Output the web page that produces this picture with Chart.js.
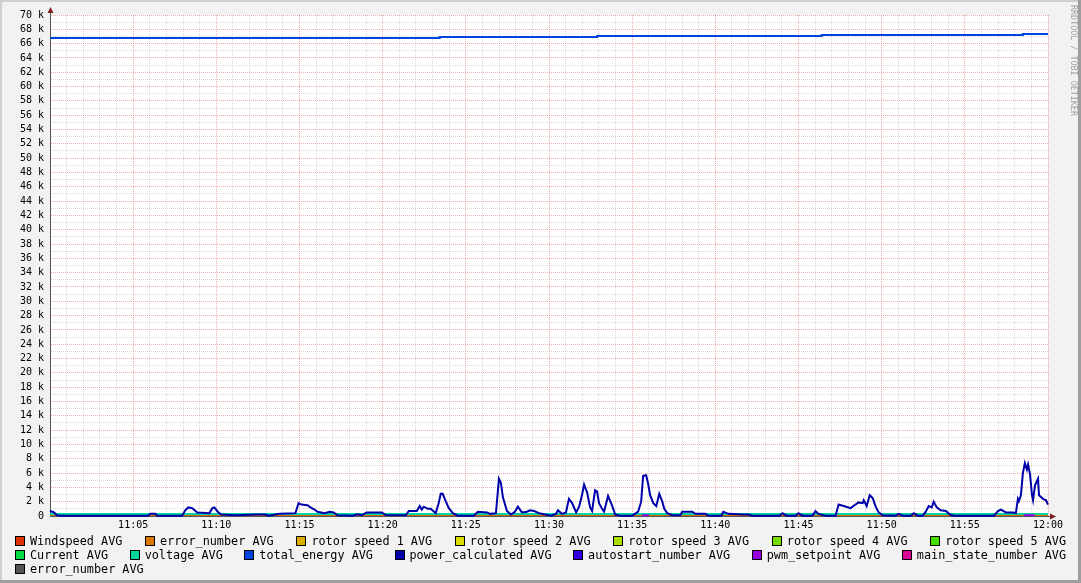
<!DOCTYPE html>
<html>
<head>
<meta charset="utf-8">
<script src="https://cdn.jsdelivr.net/npm/chart.js@4.4.1/dist/chart.umd.min.js"></script>
<style>
html, body { margin: 0; padding: 0; background: #f2f2f2; }
canvas { display: block; }
</style>
</head>
<body>
<canvas id="rrd" width="1081" height="583"></canvas>
<script>
// time axis is minutes after 11:00
const xTickLabels = ['11:05', '11:10', '11:15', '11:20', '11:25', '11:30',
                     '11:35', '11:40', '11:45', '11:50', '11:55', '12:00'];
const yTickLabels = ['0', '2 k', '4 k', '6 k', '8 k', '10 k', '12 k', '14 k', '16 k', '18 k',
                     '20 k', '22 k', '24 k', '26 k', '28 k', '30 k', '32 k', '34 k', '36 k',
                     '38 k', '40 k', '42 k', '44 k', '46 k', '48 k', '50 k', '52 k', '54 k',
                     '56 k', '58 k', '60 k', '62 k', '64 k', '66 k', '68 k', '70 k'];

const seriesNames = ['Windspeed AVG', 'error_number AVG', 'rotor speed 1 AVG', 'rotor speed 2 AVG',
                     'rotor speed 3 AVG', 'rotor speed 4 AVG', 'rotor speed 5 AVG', 'Current AVG',
                     'voltage AVG', 'total_energy AVG', 'power_calculated AVG', 'autostart_number AVG',
                     'pwm_setpoint AVG', 'main_state_number AVG', 'error_number AVG'];
const seriesColors = ['#dd3300', '#dd7700', '#ddaa00', '#dddd00', '#aadd00', '#77dd00', '#44dd00',
                      '#00dd44', '#00d6a0', '#0044dd', '#0000aa', '#3300dd', '#9900dd', '#dd0099', '#555555'];

const powerTimes = [0.00, 0.24, 0.42, 0.66, 5.90, 6.02, 6.33, 6.45, 7.95, 8.13, 8.31, 8.55, 8.86, 9.58,
  9.76, 9.88, 10.12, 10.30, 11.08, 12.47, 12.95, 13.13, 13.80, 14.76, 14.94, 15.12, 15.48, 15.66,
  15.90, 16.08, 16.51, 16.81, 17.05, 17.29, 18.19, 18.49, 18.73, 19.04, 19.94, 20.18, 21.39, 21.57,
  22.05, 22.23, 22.35, 22.47, 22.71, 22.89, 23.19, 23.37, 23.49, 23.61, 23.80, 23.98, 24.22, 24.52,
  25.48, 25.72, 26.27, 26.45, 26.81, 26.99, 27.11, 27.23, 27.47, 27.71, 27.95, 28.13, 28.37, 28.67,
  28.86, 29.10, 29.40, 29.76, 30.12, 30.42, 30.54, 30.78, 31.02, 31.20, 31.39, 31.63, 31.81, 31.99,
  32.11, 32.29, 32.47, 32.59, 32.77, 32.89, 33.01, 33.19, 33.31, 33.55, 33.80, 33.98, 34.28, 35.00,
  35.36, 35.54, 35.66, 35.84, 35.96, 36.08, 36.27, 36.45, 36.63, 36.81, 36.93, 37.11, 37.41, 37.89,
  38.01, 38.61, 38.80, 39.40, 39.58, 40.36, 40.48, 40.78, 41.63, 41.99, 42.23, 43.86, 44.04, 44.28,
  44.82, 45.00, 45.24, 45.84, 46.02, 46.20, 46.63, 47.23, 47.41, 47.71, 48.13, 48.43, 48.61, 48.86,
  48.92, 49.10, 49.28, 49.46, 49.64, 49.82, 50.06, 50.84, 51.02, 51.27, 51.75, 51.93, 52.17, 52.47,
  52.65, 52.83, 53.01, 53.13, 53.31, 53.55, 53.86, 54.10, 54.34, 56.75, 56.99, 57.17, 57.47, 57.89,
  58.07, 58.19, 58.25, 58.37, 58.49, 58.61, 58.73, 58.80, 58.92, 59.04, 59.10, 59.22, 59.40, 59.46,
  59.70, 59.88, 60.00];
const powerValues = [700, 500, 100, 50, 50, 300, 300, 50, 50, 800, 1200, 1100, 500, 400,
  1100, 1200, 500, 200, 100, 200, 200, 50, 300, 400, 1800, 1600, 1500, 1200,
  900, 600, 400, 600, 500, 100, 50, 250, 100, 500, 500, 150, 100, 700,
  700, 1400, 900, 1300, 1000, 1000, 400, 1800, 3100, 3100, 2000, 1100, 400, 50,
  50, 600, 500, 300, 400, 5200, 4600, 2600, 700, 200, 600, 1300, 500, 600,
  800, 700, 400, 200, 50, 300, 800, 300, 500, 2400, 1800, 500, 1300, 3000,
  4400, 3300, 1200, 700, 3600, 3400, 1800, 1000, 600, 2800, 1400, 200, 50, 50,
  600, 2000, 5600, 5700, 4500, 2900, 1800, 1400, 3100, 2000, 1000, 400, 100, 100,
  600, 600, 300, 300, 50, 50, 600, 300, 200, 200, 50, 50, 400, 50,
  50, 400, 50, 50, 700, 300, 50, 50, 1600, 1400, 1100, 1600, 1900, 1800,
  2200, 1400, 2900, 2500, 1300, 500, 100, 50, 300, 50, 50, 400, 50, 50,
  600, 1400, 1200, 2000, 1200, 800, 700, 200, 50, 50, 700, 900, 500, 500,
  400, 2400, 2100, 2900, 6000, 7400, 6500, 7200, 5800, 2900, 2200, 4300, 5200, 2900,
  2400, 2200, 1600];

const energyTimes = [0, 23.43, 23.43, 32.89, 32.89, 46.39, 46.39, 58.49, 58.49, 60];
const energyValues = [66780, 66780, 66920, 66920, 67060, 67060, 67200, 67200, 67340, 67340];

const voltageTimes = [0, 60];
const voltageValues = [280, 280];

// pwm only shows where it lifts off the axis
const pwmTimes = [35.6, 36.0, 36.0, 58.55, 59.2];
const pwmValues = [100, 100, null, 100, 100];

const flatTimes = [0, 60];
const flatValues = [0, 0];

const seriesData = {
  'voltage AVG': [voltageTimes, voltageValues],
  'total_energy AVG': [energyTimes, energyValues],
  'power_calculated AVG': [powerTimes, powerValues],
  'pwm_setpoint AVG': [pwmTimes, pwmValues]
};
// lower order is painted last (on top)
const drawOrder = { 'voltage AVG': 5, 'pwm_setpoint AVG': 4, 'total_energy AVG': 3, 'power_calculated AVG': 2 };

const datasets = seriesNames.map((name, i) => {
  const [t, v] = seriesData[name] || [flatTimes, flatValues];
  const flat = !seriesData[name];
  return {
    label: name,
    data: t.map((x, k) => ({ x: x, y: v[k] })),
    borderColor: seriesColors[i],
    backgroundColor: seriesColors[i],
    borderWidth: flat ? 1 : 2,
    pointRadius: 0,
    tension: 0,
    spanGaps: false,
    clip: flat ? 0 : 1,
    order: drawOrder[name] || 10
  };
});

const MONO = '"DejaVu Sans Mono", monospace';
const legendRows = [7, 7, 1];

const rrdLook = {
  id: 'rrdLook',
  beforeDraw(chart) {
    const { ctx, chartArea: a } = chart;
    ctx.save();
    ctx.fillStyle = '#f2f2f2';
    ctx.fillRect(0, 0, chart.width, chart.height);
    ctx.fillStyle = '#ffffff';
    ctx.fillRect(a.left, a.top, a.right - a.left, a.bottom - a.top);
    ctx.restore();
  },
  afterDraw(chart) {
    const { ctx, chartArea: a } = chart;
    const W = chart.width, H = chart.height;
    ctx.save();
    // frame
    ctx.fillStyle = '#cfcfcf';
    ctx.fillRect(0, 0, W, 2);
    ctx.fillRect(0, 0, 2, H);
    ctx.fillStyle = '#9e9e9e';
    ctx.fillRect(W - 3, 0, 3, H);
    ctx.fillRect(0, H - 3, W, 3);

    // axis extensions and arrows
    ctx.strokeStyle = '#555';
    ctx.lineWidth = 1;
    ctx.beginPath();
    ctx.moveTo(a.left + 0.5, a.top);
    ctx.lineTo(a.left + 0.5, a.top - 5);
    ctx.moveTo(a.right, a.bottom + 0.5);
    ctx.lineTo(a.right + 5, a.bottom + 0.5);
    ctx.stroke();
    ctx.fillStyle = '#801f1f';
    ctx.beginPath();
    ctx.moveTo(a.left + 0.5, a.top - 8);
    ctx.lineTo(a.left - 2.5, a.top - 2);
    ctx.lineTo(a.left + 3.5, a.top - 2);
    ctx.closePath();
    ctx.fill();
    ctx.beginPath();
    ctx.moveTo(a.right + 8, a.bottom + 0.5);
    ctx.lineTo(a.right + 2, a.bottom - 2.5);
    ctx.lineTo(a.right + 2, a.bottom + 3.5);
    ctx.closePath();
    ctx.fill();

    // watermark
    ctx.save();
    ctx.translate(1073, 5);
    ctx.rotate(Math.PI / 2);
    ctx.font = '8.4px ' + MONO;
    ctx.fillStyle = '#a0a0a0';
    ctx.textBaseline = 'middle';
    ctx.textAlign = 'left';
    ctx.fillText('RRDTOOL / TOBI OETIKER', 0, 0);
    ctx.restore();

    // legend, justified like rrdtool
    ctx.font = '11.8px ' + MONO;
    ctx.textBaseline = 'alphabetic';
    ctx.textAlign = 'left';
    let idx = 0;
    legendRows.forEach((count, r) => {
      const items = seriesNames.slice(idx, idx + count).map((n, k) => ({ name: n, color: seriesColors[idx + k] }));
      idx += count;
      const widths = items.map(it => 15 + ctx.measureText(it.name).width);
      const total = widths.reduce((s, w) => s + w, 0);
      const gap = count > 1 && r < legendRows.length - 1 ? (1066 - 15 - total) / (count - 1) : 0;
      const base = 544.5 + r * 14.2;
      let x = 15;
      items.forEach((it, k) => {
        const bx = Math.round(x);
        const by = Math.round(base - 8.5);
        ctx.fillStyle = it.color;
        ctx.fillRect(bx, by, 10, 10);
        ctx.strokeStyle = '#000';
        ctx.strokeRect(bx + 0.5, by + 0.5, 9, 9);
        ctx.fillStyle = '#000';
        ctx.fillText(it.name, x + 15, base);
        x += widths[k] + gap;
      });
    });
    ctx.restore();
  }
};

const minorGrid = 'rgba(143,143,143,0.32)';
const majorGrid = 'rgba(222,79,79,0.45)';

new Chart(document.getElementById('rrd'), {
  type: 'line',
  data: { datasets: datasets },
  options: {
    responsive: false,
    animation: false,
    devicePixelRatio: 1,
    layout: { padding: { left: 0, top: 15, right: 33, bottom: 47 } },
    plugins: { legend: { display: false }, tooltip: { enabled: false } },
    scales: {
      x: {
        type: 'linear',
        min: 0,
        max: 60,
        afterFit: s => { s.height = 20; },
        grid: {
          drawTicks: false,
          color: c => (c.tick && c.tick.value % 5 === 0 ? majorGrid : minorGrid)
        },
        border: { color: '#555', width: 1, dash: [1, 1] },
        ticks: {
          stepSize: 1,
          autoSkip: false,
          maxRotation: 0,
          padding: 3,
          color: '#000',
          font: { family: MONO, size: 10 },
          callback: v => (v % 5 === 0 && v > 0 ? xTickLabels[v / 5 - 1] : '')
        }
      },
      y: {
        min: 0,
        max: 70000,
        afterFit: s => { s.width = 50; },
        grid: {
          drawTicks: false,
          color: c => (c.tick && c.tick.value % 2000 === 0 ? majorGrid : minorGrid)
        },
        border: { color: '#555', width: 1, dash: [1, 1] },
        ticks: {
          stepSize: 1000,
          autoSkip: false,
          padding: 6,
          color: '#000',
          font: { family: MONO, size: 10 },
          callback: v => (v % 2000 === 0 ? yTickLabels[v / 2000] : '')
        }
      }
    }
  },
  plugins: [rrdLook]
});
</script>
</body>
</html>
